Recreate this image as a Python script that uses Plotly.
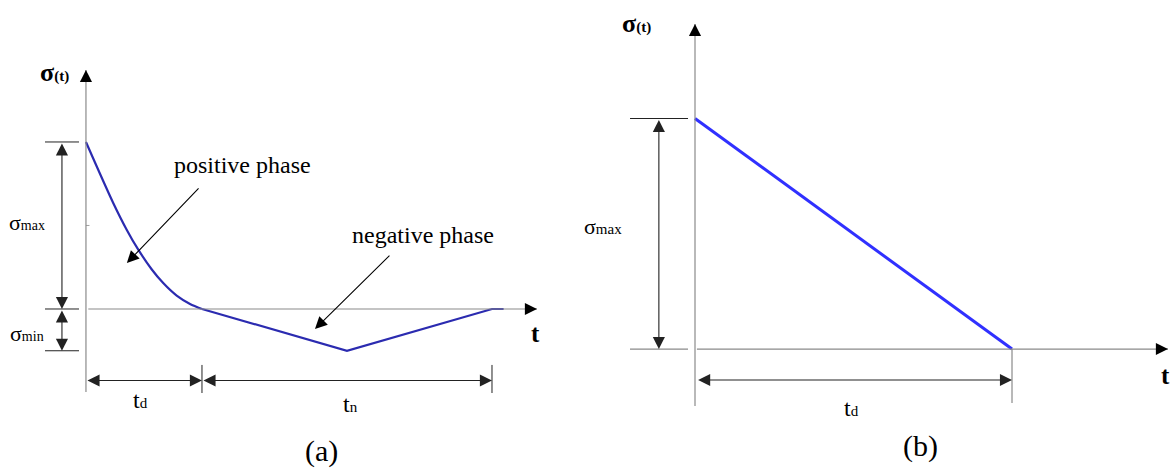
import plotly.graph_objects as go

# ---- panel (a): Friedlander-type blast load with negative phase ----
t_d = 1.0            # duration of positive phase
t_n_end = 3.5        # end of negative phase
sigma_max = 1.0
sigma_min = -0.25

pos_t = [0.0, 0.235, 0.351, 0.451, 0.566, 0.666, 0.782, 0.897, 1.0]
pos_sigma = [1.0, 0.635, 0.475, 0.355, 0.238, 0.155, 0.080, 0.030, 0.0]

neg_t = [1.0, 2.25, 3.5, 3.6]
neg_sigma = [0.0, -0.25, 0.0, 0.0]

# ---- panel (b): triangular (linearised) load ----
tri_t = [0.0, 1.0]
tri_sigma = [1.0, 0.0]

FONT = "Liberation Serif, Times New Roman, serif"
GRAY = "#8a8a8a"
DARK = "#222222"

fig = go.Figure()
fig.add_trace(go.Scatter(x=pos_t, y=pos_sigma, mode="lines",
                         line=dict(color="#2b2bb0", width=2.2, shape="spline", smoothing=0.8),
                         xaxis="x", yaxis="y", hoverinfo="skip"))
fig.add_trace(go.Scatter(x=neg_t, y=neg_sigma, mode="lines", line=dict(color="#2b2bb0", width=2.2),
                         xaxis="x", yaxis="y", hoverinfo="skip"))
fig.add_trace(go.Scatter(x=tri_t, y=tri_sigma, mode="lines", line=dict(color="#3030ff", width=3),
                         xaxis="x2", yaxis="y2", hoverinfo="skip"))

shapes = []
annotations = []


def seg(xr, x0, y0, x1, y1, color=GRAY, width=1.2):
    yr = "y" if xr == "x" else "y2"
    shapes.append(dict(type="line", xref=xr, yref=yr, x0=x0, y0=y0, x1=x1, y1=y1,
                       line=dict(color=color, width=width)))


def arrow(xr, x, y, ax, ay, both=False, color=DARK):
    yr = "y" if xr == "x" else "y2"
    annotations.append(dict(xref=xr, yref=yr, x=x, y=y, ax=ax, ay=ay, axref=xr, ayref=yr,
                            text="", showarrow=True, arrowhead=2, arrowsize=2.2, arrowwidth=1.1,
                            arrowcolor=color, arrowside="end+start" if both else "end",
                            standoff=0, startstandoff=0))


def head(xr, x, y, dx, dy):
    # short black arrowhead at the tip of an axis
    yr = "y" if xr == "x" else "y2"
    annotations.append(dict(xref=xr, yref=yr, x=x, y=y, ax=dx, ay=dy, text="", showarrow=True,
                            arrowhead=2, arrowsize=2.2, arrowwidth=1.1, arrowcolor="black", standoff=0))


def label(xr, x, y, text, size=17, bold=False):
    yr = "y" if xr == "x" else "y2"
    if bold:
        text = "<b>" + text + "</b>"
    annotations.append(dict(xref=xr, yref=yr, x=x, y=y, text=text, showarrow=False,
                            font=dict(family=FONT, size=size, color="black"),
                            xanchor="center", yanchor="middle"))


def sub(main, small, size):
    return main + "<span style='font-size:%dpx'>%s</span>" % (size, small)


# panel (a) axes
seg("x", 0, -0.497, 0, 1.431)
head("x", 0, 1.431, 0, 12)
seg("x", 0.02, 0, 3.888, 0)
head("x", 3.888, 0, -12, 0)
seg("x", 0, 0.5, 0.03, 0.5, width=0.8)
# reference lines at sigma_max / 0 / sigma_min
seg("x", -0.353, sigma_max, -0.06, sigma_max, color=DARK, width=1)
seg("x", -0.353, 0, -0.06, 0, color=DARK, width=1)
seg("x", -0.353, sigma_min, -0.06, sigma_min, color=DARK, width=1)
arrow("x", -0.207, 0, -0.207, sigma_max, both=True)
arrow("x", -0.207, sigma_min, -0.207, 0, both=True)
# duration dimensions
seg("x", t_d, -0.335, t_d, -0.503, color=DARK, width=1)
seg("x", t_n_end, -0.335, t_n_end, -0.503, color=DARK, width=1)
arrow("x", t_d, -0.428, 0, -0.428, both=True)
arrow("x", t_n_end, -0.428, t_d, -0.428, both=True)
# phase pointers
arrow("x", 0.353, 0.275, 0.983, 0.731, color="black")
arrow("x", 1.974, -0.12, 2.629, 0.329, color="black")
label("x", 1.353, 0.862, "positive phase", size=24)
label("x", 2.905, 0.443, "negative phase", size=24)
label("x", -0.267, 1.413, sub("σ", "(t)", 15), size=26, bold=True)
label("x", -0.504, 0.515, sub("σ", "max", 14), size=22)
label("x", -0.504, -0.144, sub("σ", "min", 14), size=22)
label("x", 3.871, -0.144, "t", size=25, bold=True)
label("x", 0.466, -0.545, sub("t", "d", 15), size=24)
label("x", 2.276, -0.57, sub("t", "n", 15), size=24)
label("x", 2.034, -0.850, "(a)", size=30)

# panel (b) axes
seg("x2", 0, -0.247, 0, 1.41)
head("x2", 0, 1.41, 0, 12)
seg("x2", 0.006, 0, 1.492, 0)
head("x2", 1.492, 0, -12, 0)
seg("x2", -0.205, sigma_max, -0.022, sigma_max, color=DARK, width=1)
seg("x2", -0.205, 0, -0.022, 0, color=GRAY, width=1.2)
arrow("x2", -0.114, 0, -0.114, sigma_max, both=True)
seg("x2", t_d, 0, t_d, -0.234)
arrow("x2", t_d, -0.1345, 0.005, -0.1345, both=True)
label("x2", -0.183, 1.414, sub("σ", "(t)", 15), size=26, bold=True)
label("x2", -0.29, 0.53, sub("σ", "max", 15), size=22)
label("x2", 1.485, -0.113, "t", size=25, bold=True)
label("x2", 0.495, -0.256, sub("t", "d", 15), size=24)
label("x2", 0.710, -0.420, "(b)", size=30)

hidden = dict(visible=False, showgrid=False, zeroline=False, fixedrange=True)
fig.update_layout(
    width=1174, height=468, margin=dict(l=0, r=0, t=0, b=0),
    paper_bgcolor="white", plot_bgcolor="white", showlegend=False,
    xaxis=dict(domain=[0, 0.5], range=[-0.741, 4.319], **hidden),
    yaxis=dict(domain=[0, 1], range=[-0.952, 1.850], **hidden),
    xaxis2=dict(domain=[0.5, 1], range=[-0.3407, 1.511], anchor="y2", **hidden),
    yaxis2=dict(domain=[0, 1], range=[-0.516, 1.514], anchor="x2", **hidden),
    shapes=shapes, annotations=annotations,
)
fig.write_html("out.html")
